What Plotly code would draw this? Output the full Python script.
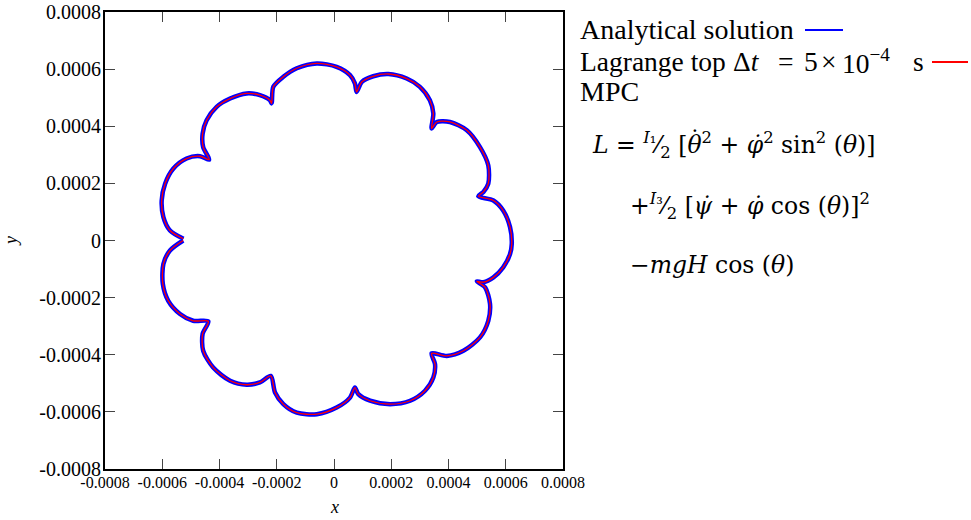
import plotly.graph_objects as go

# Trajectory of the top's tip (units: 1e-4 m)
x_analytic = [-5.26, -5.73, -5.96, -6.02, -5.90, -5.61, -5.15, -4.68, -4.36,
              -4.57, -4.59, -4.45, -4.10, -3.63, -3.05, -2.59, -2.24, -2.18,
              -2.12, -1.77, -1.30, -0.60, 0.09, 0.56, 0.73, 0.79,
              0.97, 1.37, 1.90, 2.54, 3.00, 3.35, 3.47, 3.41,
              3.59, 4.05, 4.64, 5.10, 5.39, 5.39, 5.22, 5.04,
              5.57, 5.91, 6.15, 6.21, 6.15, 5.91, 5.57, 5.22, 4.99,
              5.28, 5.45, 5.39, 5.10, 4.52, 3.94, 3.41,
              3.53, 3.47, 3.18, 2.66, 1.96, 1.26, 0.85, 0.73,
              0.56, 0.09, -0.60, -1.30, -1.77, -2.06, -2.21,
              -2.59, -3.05, -3.63, -4.22, -4.57, -4.59, -4.39,
              -4.92, -5.38, -5.79, -5.98, -5.96, -5.73, -5.27]
y_analytic = [0.06, 0.35, 0.82, 1.40, 1.99, 2.52, 2.87, 2.95, 2.83,
              3.27, 3.74, 4.21, 4.68, 4.97, 5.15, 5.09, 4.91, 4.80,
              5.38, 5.73, 6.03, 6.20, 6.08, 5.79, 5.50, 5.20,
              5.55, 5.75, 5.83, 5.67, 5.38, 4.91, 4.45, 3.92,
              4.15, 4.15, 3.86, 3.27, 2.63, 1.99, 1.70, 1.55,
              1.40, 1.05, 0.47, -0.12, -0.47, -0.94, -1.29, -1.46, -1.43,
              -1.64, -2.22, -2.81, -3.39, -3.86, -4.04, -3.95,
              -4.33, -4.80, -5.26, -5.61, -5.73, -5.61, -5.38, -5.15,
              -5.50, -5.85, -6.08, -6.03, -5.73, -5.32, -4.74,
              -4.97, -5.05, -4.91, -4.45, -3.86, -3.27, -2.83,
              -2.81, -2.57, -2.11, -1.52, -0.82, -0.35, 0.00]
scale = 1e-4
x_analytic = [v * scale for v in x_analytic]
y_analytic = [v * scale for v in y_analytic]
# Lagrange-top integration coincides with the analytical curve at this scale
x_lagrange = list(x_analytic)
y_lagrange = list(y_analytic)

tick_vals = [-0.0008, -0.0006, -0.0004, -0.0002, 0, 0.0002, 0.0004, 0.0006, 0.0008]
tick_text = ["-0.0008", "-0.0006", "-0.0004", "-0.0002", "0",
             "0.0002", "0.0004", "0.0006", "0.0008"]

DOT = "\u0307"
TH, PHI, PSI = "\u03b8", "\u03c6", "\u03c8"
legend_line1 = "Analytical solution"
legend_line2 = ["Lagrange top", "Δ<i>t</i>", "=", "5", "×", "10<sup>−4</sup>", "s"]
legend_line3 = "MPC"
eq_lines = ["<i>L</i> = <sup><i>I</i>₁</sup>⁄<sub>2</sub> [<i>" + TH + "</i><sup>2</sup> + <i>"
            + PHI + DOT + "</i><sup>2</sup> sin<sup>2</sup> (<i>" + TH + "</i>)]",
            "+<sup><i>I</i>₃</sup>⁄<sub>2</sub> [<i>" + PSI + DOT + "</i> + <i>" + PHI + DOT
            + "</i> cos (<i>" + TH + "</i>)]<sup>2</sup>",
            "−<i>mgH</i> cos (<i>" + TH + "</i>)"]
theta_dot_mark = "\u02d9"

FONT = "Liberation Serif"
EQFONT = "DejaVu Serif"
W, H = 971, 520
L, R, T, B = 105, 408, 12, 51
PW, PH = W - L - R, H - T - B


def px(x):
    return (x - L) / PW


def py(y):
    return (H - B - y) / PH


fig = go.Figure()
fig.add_trace(go.Scatter(x=x_analytic, y=y_analytic, mode="lines",
                         line=dict(color="#0000ff", width=4.5, shape="spline", smoothing=0.8),
                         showlegend=False))
fig.add_trace(go.Scatter(x=x_lagrange, y=y_lagrange, mode="lines",
                         line=dict(color="#ff0000", width=1.3, shape="spline", smoothing=0.8),
                         showlegend=False))

axis_common = dict(range=[-0.0008, 0.0008], tickvals=tick_vals, ticktext=tick_text,
                   showgrid=False, zeroline=False, showline=True, linecolor="black",
                   linewidth=2, mirror="allticks", ticks="inside", ticklen=10,
                   tickcolor="#444", tickwidth=1, automargin=False)
fig.update_xaxes(**axis_common, tickfont=dict(family=FONT, size=16, color="black"),
                 ticklabelstandoff=-2)
fig.update_yaxes(**axis_common, tickfont=dict(family=FONT, size=20, color="black"),
                 ticklabelstandoff=-2)

ann = []
ann.append(dict(x=px(334), y=py(519), text="<i>x</i>", font=dict(size=18), yanchor="bottom"))
ann.append(dict(x=px(11), y=py(241), text="<i>y</i>", font=dict(size=18), textangle=-90))
ann.append(dict(x=px(578), y=py(30), text=legend_line1, xanchor="left", font=dict(size=28)))
seg_lx = [578, 731, 776, 802, 819, 840, 911]
for lab, lx in zip(legend_line2, seg_lx):
    ann.append(dict(x=px(lx), y=py(61), text=lab, xanchor="left", font=dict(size=27.5)))
ann.append(dict(x=px(578), y=py(91), text=legend_line3, xanchor="left", font=dict(size=28)))
eq_pos = [(590, 145), (628, 206), (628, 265)]
for lab, (xx, yy) in zip(eq_lines, eq_pos):
    ann.append(dict(x=px(xx), y=py(yy), text=lab, xanchor="left",
                    font=dict(size=23.5, family=EQFONT)))
ann.append(dict(x=px(695), y=py(140), text=theta_dot_mark, xanchor="center",
                font=dict(size=23.5, family=EQFONT)))
for a in ann:
    a.update(xref="paper", yref="paper", showarrow=False)
    a.setdefault("yanchor", "middle")
    a.setdefault("xanchor", "center")
    a["font"].setdefault("family", FONT)
    a["font"]["color"] = "black"

shapes = [
    dict(type="line", xref="paper", yref="paper", x0=px(805), x1=px(843), y0=py(30), y1=py(30),
         line=dict(color="#0000ff", width=2)),
    dict(type="line", xref="paper", yref="paper", x0=px(932), x1=px(968), y0=py(62), y1=py(62),
         line=dict(color="#ff0000", width=2)),
]

fig.update_layout(width=W, height=H, margin=dict(l=L, r=R, t=T, b=B),
                  plot_bgcolor="white", paper_bgcolor="white",
                  annotations=ann, shapes=shapes, showlegend=False)
fig.write_html("out.html")
